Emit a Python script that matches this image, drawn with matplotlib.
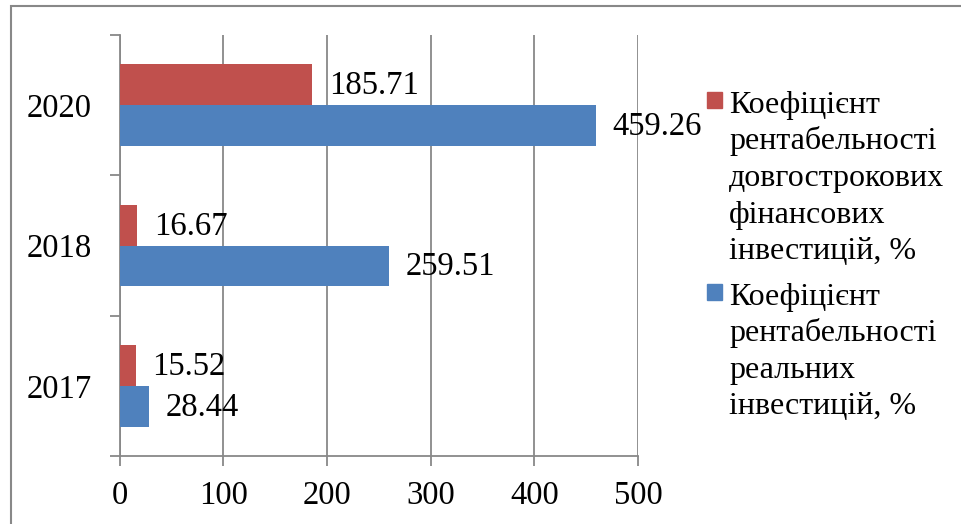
import matplotlib.pyplot as plt
from matplotlib.patches import Rectangle
import numpy as np

plt.rcParams['font.family'] = ['Liberation Serif', 'DejaVu Serif']

years = ['2017', '2018', '2020']
fin_invest = [15.52, 16.67, 185.71]    # довгострокові фінансові інвестиції
real_invest = [28.44, 259.51, 459.26]  # реальні інвестиції
names = ['Коефіцієнт\nрентабельності\nдовгострокових\nфінансових\nінвестицій, %',
         'Коефіцієнт\nрентабельності\nреальних\nінвестицій, %']
colors = ['#C0504D', '#4F81BD']
xticks = [0, 100, 200, 300, 400, 500]

W, H = 962, 524
fig = plt.figure(figsize=(W / 100, H / 100), dpi=100)
ax = fig.add_axes([119.7 / W, 1 - 456 / H, (638 - 119.7) / W, (456 - 35) / H])

y = np.arange(len(years))
h = 0.29
bars_fin = ax.barh(y + h / 2, fin_invest, height=h, color=colors[0], zorder=3)
bars_real = ax.barh(y - h / 2, real_invest, height=h, color=colors[1], zorder=3)

for bars, vals in [(bars_fin, fin_invest), (bars_real, real_invest)]:
    for b, v in zip(bars, vals):
        ax.annotate(f'{v:.2f}', (v, b.get_y() + b.get_height() / 2),
                    xytext=(12, -1), textcoords='offset points',
                    va='center', ha='left', fontsize=23.5, zorder=4)

ax.set_xlim(0, 500)
ax.set_ylim(-0.5, len(years) - 0.5)
ax.set_xticks(xticks)
ax.set_xticklabels([str(t) for t in xticks], fontsize=23.5)
ax.set_yticks(y)
ax.set_yticklabels(years, fontsize=23.5)
ax.set_yticks(np.arange(len(years) + 1) - 0.5, minor=True)

grey = '#888888'
ax.grid(axis='x', color=grey, linewidth=1.3, zorder=0)
for s in ['top', 'right']:
    ax.spines[s].set_visible(False)
for s in ['left', 'bottom']:
    ax.spines[s].set_color(grey)
    ax.spines[s].set_linewidth(1.3)
ax.tick_params(axis='y', which='major', length=0, pad=20)
ax.tick_params(axis='y', which='minor', length=7, color=grey, width=1.3)
ax.tick_params(axis='x', which='major', length=7, color=grey, width=1.3, pad=11)

# legend drawn by hand so the marker sits on the first line
line_h = 36.5
base = [113, 305]
for name, c, b0 in zip(names, colors, base):
    fig.add_artist(Rectangle((707 / W, 1 - 108 / H - (b0 - 113) / H), 15 / W, 16 / H,
                             transform=fig.transFigure, color=c))
    for i, line in enumerate(name.split('\n')):
        fig.text(729 / W, 1 - (b0 + i * line_h) / H, line, fontsize=23,
                 va='baseline', ha='left')

# outer chart border
fig.add_artist(Rectangle((11 / W, -0.1), 1.2, 1 - 6 / H + 0.1,
                         transform=fig.transFigure, fill=False,
                         edgecolor=grey, linewidth=1.5))

fig.savefig('out.png', dpi=100)
